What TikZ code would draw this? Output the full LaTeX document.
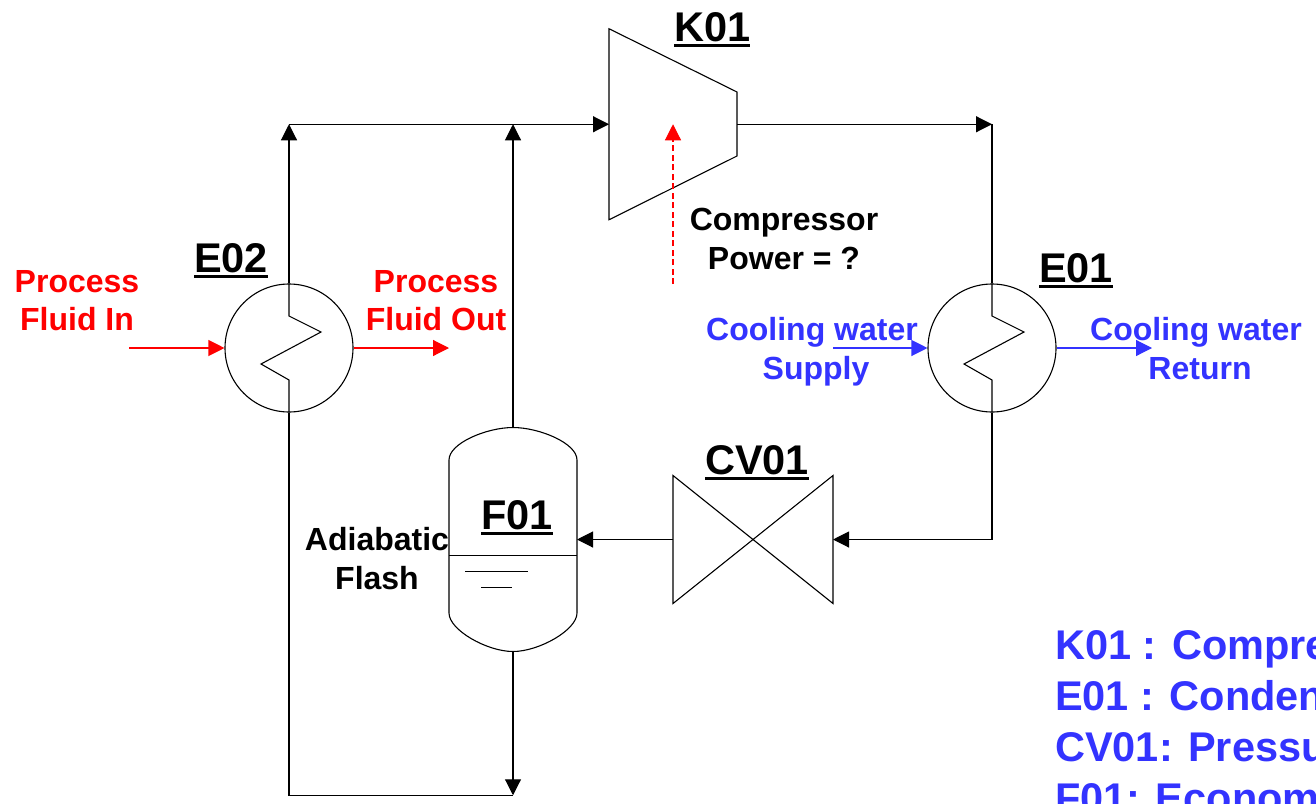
\documentclass[tikz,border=0pt]{standalone}
\usepackage{fontspec}
\setmainfont{Liberation Sans}
\usetikzlibrary{arrows.meta}
\definecolor{bl}{HTML}{3333FF}
\newcommand{\ulabel}[1]{\setbox0\hbox{#1}\rlap{\rule[-0.145em]{\wd0}{0.075em}}\box0}
\tikzset{
  ln/.style={draw=black,line width=1.1pt},
  arr/.style={ln,-{Triangle[length=16pt,width=16pt]}},
  redarr/.style={draw=red,line width=1.15pt,-{Triangle[length=16pt,width=16pt]}},
  bluearr/.style={draw=bl,line width=1.15pt,-{Triangle[length=16pt,width=16pt]}},
  hx/.style={circle,draw=black,line width=1.1pt,minimum size=128pt,inner sep=0pt},
  box/.style={inner sep=0pt,outer sep=0pt},
  tag/.style={inner sep=0pt,anchor=base west,font=\fontsize{41.5}{41.5}\selectfont\bfseries},
  lab/.style={inner sep=0pt,anchor=base,align=center,font=\fontsize{32}{38.5}\selectfont\bfseries},
  legend/.style={inner sep=0pt,anchor=base west,text=bl,font=\fontsize{41.5}{41.5}\selectfont\bfseries}
}
\begin{document}
\begin{tikzpicture}[x=1pt,y=-1pt]
\useasboundingbox (0,0) rectangle (1316,803);
\clip (0,0) rectangle (1316,803);
% equipment
\node[hx] (e02) at (289,348) {};
\node[hx] (e01) at (992,348) {};
\node[box,minimum width=128pt,minimum height=224pt] (f01) at (513,539.5) {};
\node[box,minimum width=128pt,minimum height=191pt] (k01) at (673,124.25) {};
\node[box,minimum width=160pt,minimum height=128pt] (cv01) at (753,539.5) {};
% compressor
\draw[ln] (k01.north west) -- (737,92) -- (737,156) -- (k01.south west) -- cycle;
% valve
\draw[ln] (cv01.north west) -- (cv01.south east) -- (cv01.north east) -- (cv01.south west) -- cycle;
% vessel
\draw[ln] (449,460) .. controls (449,443) and (487,427.5) .. (f01.north)
  .. controls (539,427.5) and (577,443) .. (577,460) -- (577,613)
  .. controls (577,630) and (539,651.5) .. (f01.south)
  .. controls (487,651.5) and (449,630) .. (449,613) -- cycle;
\draw[ln] (449,555.5) -- (577,555.5);
\draw[line width=1.1pt] (465,571.5) -- (528,571.5);
\draw[line width=1.1pt] (481,587.5) -- (512,587.5);
% coils
\coordinate (n1) at (289,124.25);
\coordinate (n2) at (513,124.25);
\coordinate (n3) at (992,124.25);
\coordinate (n4) at (289,795.25);
\coordinate (n5) at (513,795.25);
\coordinate (n6) at (992,539.5);
\draw[ln] (e02.north) -- (289,316) -- (321,332) -- (261,364) -- (289,380) -- (e02.south);
\draw[ln] (e01.north) -- (992,316) -- (1024,332) -- (964,364) -- (992,380) -- (e01.south);
% process lines
\draw[arr] (e02.north) -- (n1);
\draw[arr] (n1) -- (k01.west);
\draw[arr] (f01.north) -- (n2);
\draw[arr] (737,124.25) -- (n3);
\draw[ln] (n3) -- (e01.north);
\draw[ln] (e02.south) -- (n4) -- (n5);
\draw[arr] (f01.south) -- (n5);
\draw[ln] (e01.south) -- (n6);
\draw[arr] (n6) -- (cv01.east);
\draw[arr] (cv01.west) -- (f01.east);
% utility streams
\coordinate (pin) at (129,348);
\coordinate (pout) at (449,348);
\coordinate (cin) at (833,348);
\coordinate (cout) at (1152,348);
\coordinate (pw) at (673,284);
\draw[redarr] (pin) -- (e02.west);
\draw[redarr] (e02.east) -- (pout);
\draw[bluearr] (cin) -- (e01.west);
\draw[bluearr] (e01.east) -- (cout);
\draw[redarr,dash pattern=on 6pt off 3.5pt] (pw) -- (k01.center);
% tags
\node[tag] (t1) at (674,41) {\ulabel{K01}};
\node[tag] (t2) at (194,272) {\ulabel{E02}};
\node[tag] (t3) at (1039,282) {\ulabel{E01}};
\node[tag] (t4) at (705,474) {\ulabel{CV01}};
\node[tag] (t5) at (481,529) {\ulabel{F01}};
% labels
\node[lab,text=red] (l1) at (77,330.5) {Process\\Fluid In};
\node[lab,text=red] (l2) at (436,330.5) {Process\\Fluid Out};
\node[lab] (l3) at (784,269) {Compressor\\Power = ?};
\node[lab,text=bl] (l4) at (812,379) {Cooling water\\\hspace*{8pt}Supply};
\node[lab,text=bl] (l5) at (1196,379) {Cooling water\\\hspace*{8pt}Return};
\node[lab] (l6) at (377,589) {Adiabatic\\Flash};
% legend
\node[legend] (g1) at (1055,659) {K01 : Compre};
\node[legend] (g2) at (1055,710) {E01 : Conden};
\node[legend] (g3) at (1055,761) {CV01: Pressu};
\node[legend] (g4) at (1055,812) {F01: Econom};
\end{tikzpicture}
\end{document}
